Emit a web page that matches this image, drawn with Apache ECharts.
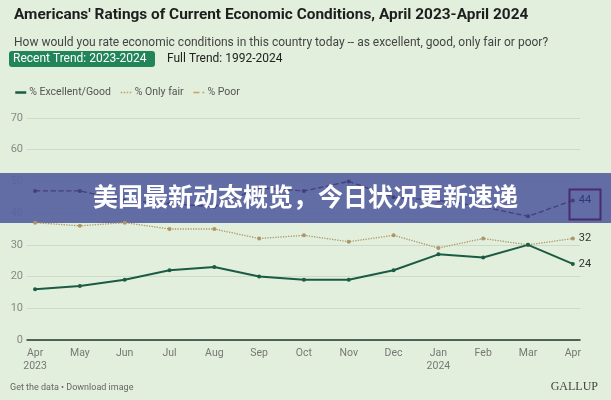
<!DOCTYPE html>
<html><head><meta charset="utf-8">
<script src="https://cdn.jsdelivr.net/npm/echarts@6/dist/echarts.min.js"></script>
<style>html,body{margin:0;padding:0;background:#e2efdc}#c{width:611px;height:400px}</style>
</head><body><div id="c"></div><script>
const months = ['Apr','May','Jun','Jul','Aug','Sep','Oct','Nov','Dec','Jan','Feb','Mar','Apr'];
const yearLabels = {0:'2023', 9:'2024'};
const excellentGood = [16,17,19,22,23,20,19,19,22,27,26,30,24];
const onlyFair = [37,36,37,35,35,32,33,31,33,29,32,30,32];
const poor = [47,47,44,43,42,48,47,50,45,44,42,39,44];
const yTicks = [0,10,20,30,40,50,60,70];
const seriesNames = ['% Excellent/Good','% Only fair','% Poor'];

const FONT = 'Roboto, "Noto Sans", sans-serif';
const chart = echarts.init(document.getElementById('c'), null, {renderer:'canvas'});
const toPts = arr => arr.map((v,i)=>[i,v]);
const endLbl = (color) => ({show:true, formatter:p=>p.value[1], color:color, fontSize:11, fontFamily:FONT, distance:6});

chart.setOption({
  backgroundColor:'#e2efdc',
  animation:false,
  textStyle:{fontFamily:FONT},
  title:[
    {text:"Americans' Ratings of Current Economic Conditions, April 2023-April 2024", left:9, top:3,
     textStyle:{fontSize:15.4, fontWeight:'bold', color:'#1e1e1e', fontFamily:FONT}},
    {text:'How would you rate economic conditions in this country today -- as excellent, good, only fair or poor?', left:9, top:32,
     textStyle:{fontSize:12, fontWeight:'normal', color:'#444', fontFamily:FONT}}
  ],
  legend:{
    left:9, top:82, itemWidth:11, itemHeight:6, itemGap:9,
    textStyle:{fontSize:10.5, color:'#555', fontFamily:FONT, padding:[0,0,0,-2]},
    itemStyle:{opacity:0},
    data:[
      {name:seriesNames[0], lineStyle:{color:'#1b5b44', width:2.5, type:'solid'}},
      {name:seriesNames[1], lineStyle:{color:'#b9a172', width:1.5, type:'dotted'}},
      {name:seriesNames[2], lineStyle:{color:'#c9a060', width:1.5, type:'dashed'}}
    ]
  },
  grid:{left:27, right:31, top:118, bottom:60},
  xAxis:{
    type:'value', min:-0.18, max:12.16,
    axisLine:{show:true, lineStyle:{color:'#1d3a2e', width:1.5}},
    axisTick:{show:false},
    splitLine:{show:false},
    axisLabel:{
      customValues: months.map((m,i)=>i),
      formatter: v => months[v] + (yearLabels[v] ? '\n' + yearLabels[v] : ''),
      color:'#777', fontSize:10.5, margin:7, lineHeight:13
    }
  },
  yAxis:{
    type:'value', min:yTicks[0], max:yTicks[yTicks.length-1], interval:10,
    axisLine:{show:false}, axisTick:{show:false},
    axisLabel:{color:'#888', fontSize:11, margin:4},
    splitLine:{lineStyle:{color:'#cddacb', width:1}}
  },
  series:[
    {name:seriesNames[0], type:'line', data:toPts(excellentGood), symbol:'circle', symbolSize:4,
     lineStyle:{color:'#1b5b44', width:2}, itemStyle:{color:'#1b5b44'}, z:5,
     endLabel:endLbl('#333')},
    {name:seriesNames[1], type:'line', data:toPts(onlyFair), symbol:'circle', symbolSize:4,
     lineStyle:{color:'#ad9566', width:1.3, type:'dotted'}, itemStyle:{color:'#ad9566'}, z:4,
     endLabel:endLbl('#333')},
    {name:seriesNames[2], type:'line', data:toPts(poor), symbol:'circle', symbolSize:4,
     lineStyle:{color:'#453e7e', width:1.3, type:'dashed'}, itemStyle:{color:'#453e7e'}, z:4,
     endLabel:endLbl('#2e3877')}
  ],
  graphic:{elements:[
    {type:'rect', left:9, top:51, shape:{width:146, height:16, r:3}, style:{fill:'#22855a'}, z:1},
    {type:'text', left:13, top:53, style:{text:'Recent Trend: 2023-2024', fill:'#fff', font:'12px '+FONT}, z:2},
    {type:'text', left:167, top:53, style:{text:'Full Trend: 1992-2024', fill:'#222', font:'12px '+FONT}, z:2},
    {type:'text', left:10, top:383, style:{text:'Get the data \u2022 Download image', fill:'#666', font:'9px '+FONT}},
    {type:'text', right:13, top:381, style:{text:'GALLUP', fill:'#444', font:'12px "Liberation Serif", "DejaVu Serif", serif'}},
    {type:'rect', left:0, top:173, shape:{width:611, height:50}, style:{fill:'rgba(88,98,160,0.92)'}, z:1},
    {type:'text', left:'center', top:184, style:{text:'美国最新动态概览，今日状况更新速递', fill:'#fff', font:'bold 25px "Noto Sans CJK SC", sans-serif'}, z:100},
    {type:'rect', left:567, top:187, shape:{width:31, height:30}, style:{fill:'none', stroke:'#4a2b6e', lineWidth:2}, z:100}
  ]}
});
</script></body></html>
